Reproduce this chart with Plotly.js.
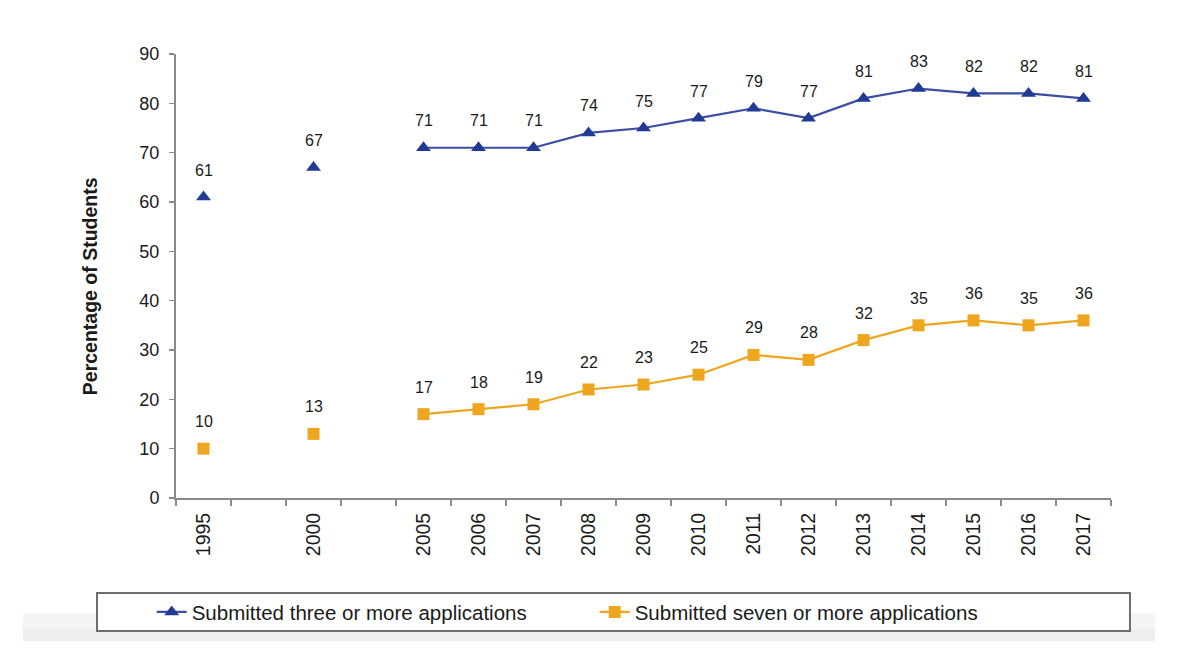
<!DOCTYPE html>
<html>
<head>
<meta charset="utf-8">
<script src="https://cdn.plot.ly/plotly-3.0.1.min.js"></script>
<style>
  html, body { margin: 0; padding: 0; background: #ffffff; }
  #chart { width: 1200px; height: 666px; }
</style>
</head>
<body>
<div id="chart"></div>
<script>
// Survey years and the share of students applying to several colleges
const years = ['1995', '2000', '2005', '2006', '2007', '2008', '2009', '2010',
               '2011', '2012', '2013', '2014', '2015', '2016', '2017'];
const threeOrMore = [61, 67, 71, 71, 71, 74, 75, 77, 79, 77, 81, 83, 82, 82, 81];
const sevenOrMore = [10, 13, 17, 18, 19, 22, 23, 25, 29, 28, 32, 35, 36, 35, 36];

// Axis slots: empty slots separate the five-year surveys from the annual ones
const axisSlots = ['1995', 'gap-a', '2000', 'gap-b', '2005', '2006', '2007', '2008',
                   '2009', '2010', '2011', '2012', '2013', '2014', '2015', '2016', '2017'];
const slotLabels = axisSlots.map(s => s.startsWith('gap') ? '' : s);

const seriesNames = ['Submitted three or more applications', 'Submitted seven or more applications'];
const yTitle = 'Percentage of Students';

function onSlots(values) {
  return axisSlots.map(s => {
    const i = years.indexOf(s);
    return i >= 0 ? values[i] : null;
  });
}

const BLUE_LINE = '#3c4ea3';
const BLUE_MARK = '#213a94';
const ORANGE = '#eea61f';
const FONT = 'Liberation Sans, Arial, sans-serif';

const traces = [
  {
    x: axisSlots, y: onSlots(threeOrMore), name: seriesNames[0],
    type: 'scatter', mode: 'lines+markers', connectgaps: false,
    line: { color: BLUE_LINE, width: 2.2 },
    marker: { symbol: 'triangle-up', size: 13, color: BLUE_MARK }
  },
  {
    x: axisSlots, y: onSlots(sevenOrMore), name: seriesNames[1],
    type: 'scatter', mode: 'lines+markers', connectgaps: false,
    line: { color: ORANGE, width: 2.2 },
    marker: { symbol: 'square', size: 12, color: ORANGE }
  }
];

// Value labels above each marker (category axes place annotations by slot index)
const labelFont = { family: FONT, size: 16, color: '#1a1a1a' };
const annotations = [];
[threeOrMore, sevenOrMore].forEach(vals => {
  years.forEach((yr, i) => {
    annotations.push({
      x: axisSlots.indexOf(yr), y: vals[i], xref: 'x', yref: 'y',
      text: String(vals[i]), showarrow: false,
      yanchor: 'middle', yshift: 27, font: labelFont
    });
  });
});

// Vertical axis title
annotations.push({
  xref: 'paper', yref: 'paper', x: -0.092, y: 0.477,
  xanchor: 'center', yanchor: 'middle', textangle: -90, showarrow: false,
  text: '<b>' + yTitle + '</b>',
  font: { family: FONT, size: 19.5, color: '#1a1a1a' }
});

const layout = {
  width: 1200, height: 666,
  margin: { l: 176, r: 89, t: 54, b: 168 },
  paper_bgcolor: '#ffffff', plot_bgcolor: '#ffffff',
  font: { family: FONT, color: '#1a1a1a' },
  showlegend: true,
  legend: {
    orientation: 'h', x: -0.026, y: -0.257, xanchor: 'left', yanchor: 'middle',
    xref: 'paper', yref: 'paper',
    entrywidth: 398, entrywidthmode: 'pixels',
    bgcolor: 'rgba(0,0,0,0)', borderwidth: 0,
    font: { family: FONT, size: 20.5, color: '#1a1a1a' }
  },
  xaxis: {
    type: 'category', categoryorder: 'array', categoryarray: axisSlots,
    tickmode: 'array', tickvals: axisSlots, ticktext: slotLabels,
    tickson: 'boundaries', ticks: 'outside', ticklen: 6, tickwidth: 1.5, tickcolor: '#8a8a8a',
    tickangle: -90, tickfont: { family: FONT, size: 19.5, color: '#1a1a1a' },
    ticklabelstandoff: 5,
    showline: true, linecolor: '#8a8a8a', linewidth: 2,
    showgrid: false, zeroline: false, range: [-0.5, 16.5], fixedrange: true
  },
  yaxis: {
    range: [0, 90], tickvals: [0, 10, 20, 30, 40, 50, 60, 70, 80, 90],
    ticks: 'outside', ticklen: 5, tickwidth: 1.5, tickcolor: '#8a8a8a',
    tickfont: { family: FONT, size: 18, color: '#1a1a1a' },
    ticklabelstandoff: 6,
    showline: true, linecolor: '#8a8a8a', linewidth: 2,
    showgrid: false, zeroline: false
  },
  shapes: [
    // soft grey band behind the legend
    { type: 'rect', xref: 'paper', yref: 'paper', layer: 'below',
      x0: -0.1636, x1: 1.047, y0: -0.322, y1: -0.26,
      fillcolor: '#f4f4f4', line: { width: 0 } },
    { type: 'rect', xref: 'paper', yref: 'paper', layer: 'below',
      x0: -0.1636, x1: 1.047, y0: -0.322, y1: -0.295,
      fillcolor: '#eeeeee', line: { width: 0 } },
    // legend frame
    { type: 'rect', xref: 'paper', yref: 'paper', layer: 'below',
      x0: -0.0845, x1: 1.0203, y0: -0.2995, y1: -0.214,
      fillcolor: '#ffffff', line: { color: '#6e6e6e', width: 2 } }
  ],
  annotations: annotations
};

Plotly.newPlot('chart', traces, layout, { displayModeBar: false, staticPlot: true });
</script>
</body>
</html>
